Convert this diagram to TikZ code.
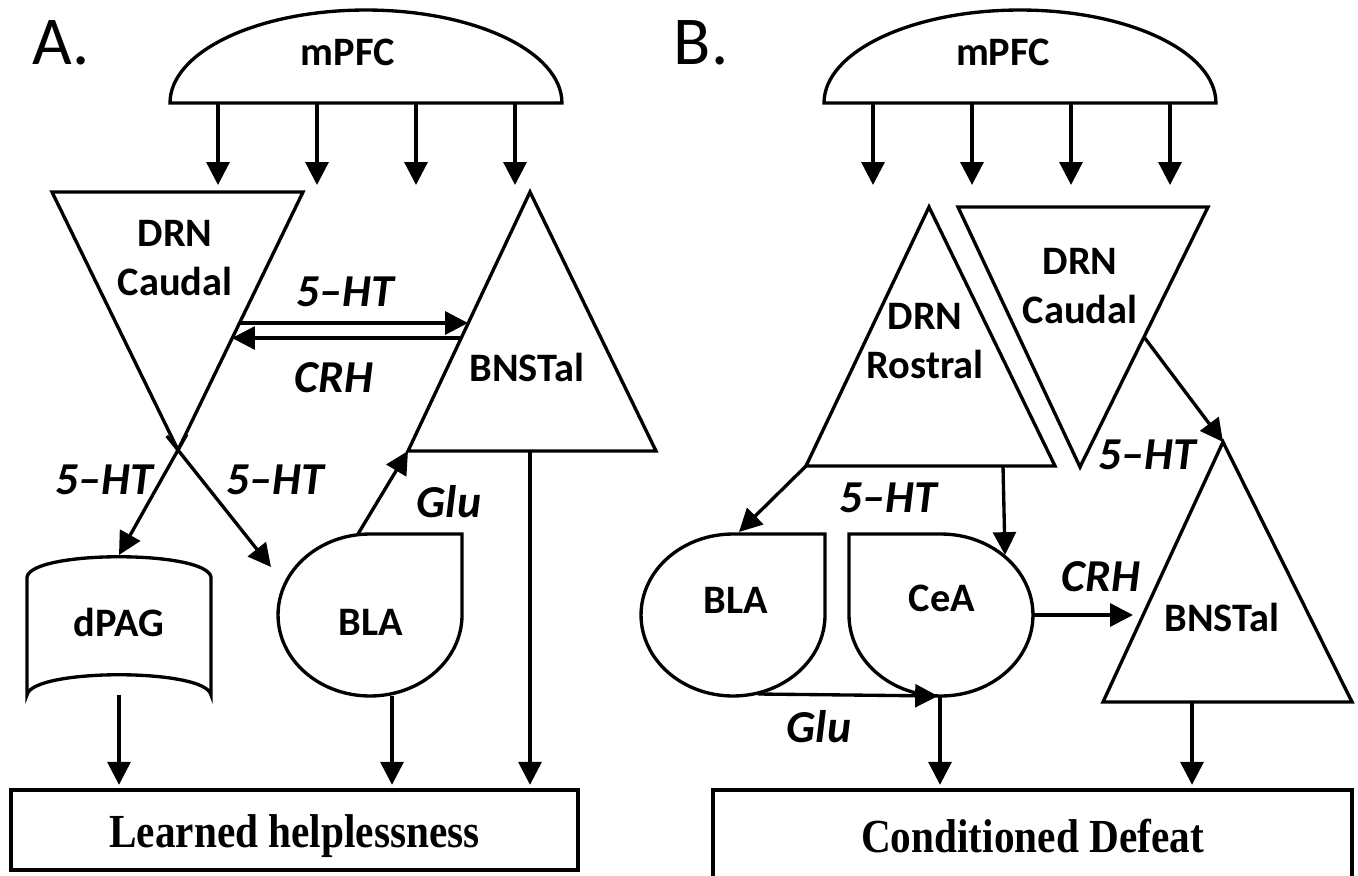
\documentclass[tikz,border=0pt]{standalone}
\usepackage{fontspec}
\setmainfont{Carlito}
\newfontfamily\timesbf{Liberation Serif}
\usetikzlibrary{arrows.meta, positioning, calc}

\begin{document}
\begin{tikzpicture}[
    x=0.02cm, y=-0.02cm,
    rim/.style={line width=1.9pt, line join=miter},
    arrow/.style={-{Triangle[length=13pt, width=13pt]}, line width=1.9pt},
    region/.style={font=\fontsize{23}{28}\selectfont\bfseries, align=center, inner sep=0pt},
    chem/.style={font=\fontsize{26}{30}\selectfont\bfseries\itshape, inner sep=0pt},
    outcome/.style={rectangle, draw, line width=1.9pt, font=\fontsize{27}{30}\selectfont\timesbf\bfseries},
    panel/.style={font=\fontsize{39}{44}\selectfont, inner sep=0pt}
]
\useasboundingbox (0,0) rectangle (1358,875);

% A. learned helplessness
\node[panel] (panelA) at (61,43) {A.};
\draw[rim] (170,103) arc[start angle=180, end angle=0, x radius=3.92cm, y radius=1.86cm] -- cycle;
\node[region] (mpfcA) at (348,52) {mPFC};
\foreach \x [count=\i] in {218,317,416,515} {
    \coordinate (mpfcA-o\i) at (\x,103);
    \coordinate (mpfcA-t\i) at (\x,185);
    \draw[arrow] (mpfcA-o\i) -- (mpfcA-t\i);
}

\coordinate (drnA-nw) at (52,192);
\coordinate (drnA-ne) at (303,192);
\coordinate (drnA-s) at (178,450);
\draw[rim] (drnA-nw) -- (drnA-ne) -- (drnA-s) -- cycle;
\node[region] (drnA) at (175,258) {DRN\\Caudal};

\coordinate (bnstA-n) at (530,192);
\coordinate (bnstA-sw) at (408,451);
\coordinate (bnstA-se) at (656,451);
\draw[rim] (bnstA-n) -- (bnstA-se) -- (bnstA-sw) -- cycle;
\node[region] (bnstA) at (527,367) {BNSTal};

\draw[rim] (27,577) .. controls (32,550) and (206,550) .. (211,577) -- (211,695)
    .. controls (206,668) and (32,668) .. (27,695) -- cycle;
\node[region] (dpagA) at (119,622) {dPAG};

\draw[rim] (370,534) -- (462,534) -- (462,615)
    arc[start angle=0, end angle=-270, x radius=1.84cm, y radius=1.62cm] -- cycle;
\node[region] (blaA) at (371,622) {BLA};

\node[outcome, minimum width=11.34cm, minimum height=1.6cm] (lh) at (294.5,830)
    {\raisebox{-0.13cm}[\height][\depth]{\scalebox{0.87}[1]{Learned helplessness}}};

\coordinate (drnA-e1) at (239.5,323);
\coordinate (bnstA-w1) at (468,323);
\coordinate (bnstA-w2) at (461,338);
\coordinate (drnA-e2) at (232,338);
\draw[arrow] (drnA-e1) -- (bnstA-w1);
\draw[arrow] (bnstA-w2) -- (drnA-e2);
\node[chem] (htA1) at (345,292) {5--HT};
\node[chem] (crhA) at (334,378) {CRH};

\coordinate (dpagA-n) at (119,555);
\coordinate (blaA-in) at (271,567);
\draw[arrow] ($(drnA-s)!-0.15!(dpagA-n)$) -- (dpagA-n);
\draw[arrow] ($(drnA-s)!-0.12!(blaA-in)$) -- (blaA-in);
\node[chem] (htA2) at (104,480) {5--HT};
\node[chem] (htA3) at (275,480) {5--HT};

\coordinate (blaA-n) at (358,534);
\draw[arrow] (blaA-n) -- (bnstA-sw);
\node[chem] (gluA) at (449,502) {Glu};

\coordinate (dpagA-s) at (119,695);
\coordinate (blaA-s) at (392,696);
\coordinate (bnstA-s) at (530,451);
\draw[arrow, shorten >=2pt] (dpagA-s) -- (dpagA-s |- lh.north);
\draw[arrow, shorten >=2pt] (blaA-s) -- (blaA-s |- lh.north);
\draw[arrow, shorten >=2pt] (bnstA-s) -- (bnstA-s |- lh.north);

% B. conditioned defeat
\node[panel] (panelB) at (701,43) {B.};
\draw[rim] (824,103) arc[start angle=180, end angle=0, x radius=3.92cm, y radius=1.86cm] -- cycle;
\node[region] (mpfcB) at (1003,52) {mPFC};
\foreach \x [count=\i] in {873,972,1071,1170} {
    \coordinate (mpfcB-o\i) at (\x,103);
    \coordinate (mpfcB-t\i) at (\x,185);
    \draw[arrow] (mpfcB-o\i) -- (mpfcB-t\i);
}

\coordinate (rosB-n) at (929,207);
\coordinate (rosB-sw) at (806,466);
\coordinate (rosB-se) at (1055,466);
\draw[rim] (rosB-n) -- (rosB-se) -- (rosB-sw) -- cycle;
\node[region] (rosB) at (925,341) {DRN\\Rostral};

\coordinate (cauB-nw) at (958,207);
\coordinate (cauB-ne) at (1208,207);
\coordinate (cauB-s) at (1080,467);
\draw[rim] (cauB-nw) -- (cauB-ne) -- (cauB-s) -- cycle;
\node[region] (cauB) at (1080,286) {DRN\\Caudal};

\coordinate (bnstB-n) at (1223,442);
\coordinate (bnstB-sw) at (1103,702);
\coordinate (bnstB-se) at (1352,702);
\draw[rim] (bnstB-n) -- (bnstB-se) -- (bnstB-sw) -- cycle;
\node[region] (bnstB) at (1222,617) {BNSTal};

\draw[rim] (733,534) -- (825,534) -- (825,615)
    arc[start angle=0, end angle=-270, x radius=1.84cm, y radius=1.62cm] -- cycle;
\node[region] (blaB) at (736,600) {BLA};

\draw[rim] (941,534) -- (849,534) -- (849,615)
    arc[start angle=180, end angle=450, x radius=1.84cm, y radius=1.62cm] -- cycle;
\node[region] (ceaB) at (942,598) {CeA};

\node[outcome, minimum width=12.78cm, minimum height=1.8cm] (cd) at (1032.5,835)
    {\raisebox{-0.03cm}[\height][\depth]{\scalebox{0.87}[1]{Conditioned Defeat}}};

\coordinate (cauB-e) at (1144,337);
\draw[arrow] (cauB-e) -- (bnstB-n);
\node[chem] (htB1) at (1147,455) {5--HT};

\coordinate (blaB-n) at (739,532);
\coordinate (rosB-s) at (1003,466);
\coordinate (ceaB-n) at (1005,555);
\draw[arrow] (rosB-sw) -- (blaB-n);
\draw[arrow] (rosB-s) -- (ceaB-n);
\node[chem] (htB2) at (888,498) {5--HT};

\coordinate (blaB-s) at (758,694);
\coordinate (ceaB-s) at (938,696);
\draw[arrow] (blaB-s) -- (ceaB-s);
\node[chem] (gluB) at (819,727) {Glu};

\coordinate (ceaB-e) at (1033,615);
\coordinate (bnstB-w) at (1133,615);
\draw[arrow] (ceaB-e) -- (bnstB-w);
\node[chem] (crhB) at (1101,577) {CRH};

\coordinate (ceaB-o) at (940,696);
\coordinate (bnstB-s) at (1192,702);
\draw[arrow, shorten >=2pt] (ceaB-o) -- (ceaB-o |- cd.north);
\draw[arrow, shorten >=2pt] (bnstB-s) -- (bnstB-s |- cd.north);

\end{tikzpicture}
\end{document}
